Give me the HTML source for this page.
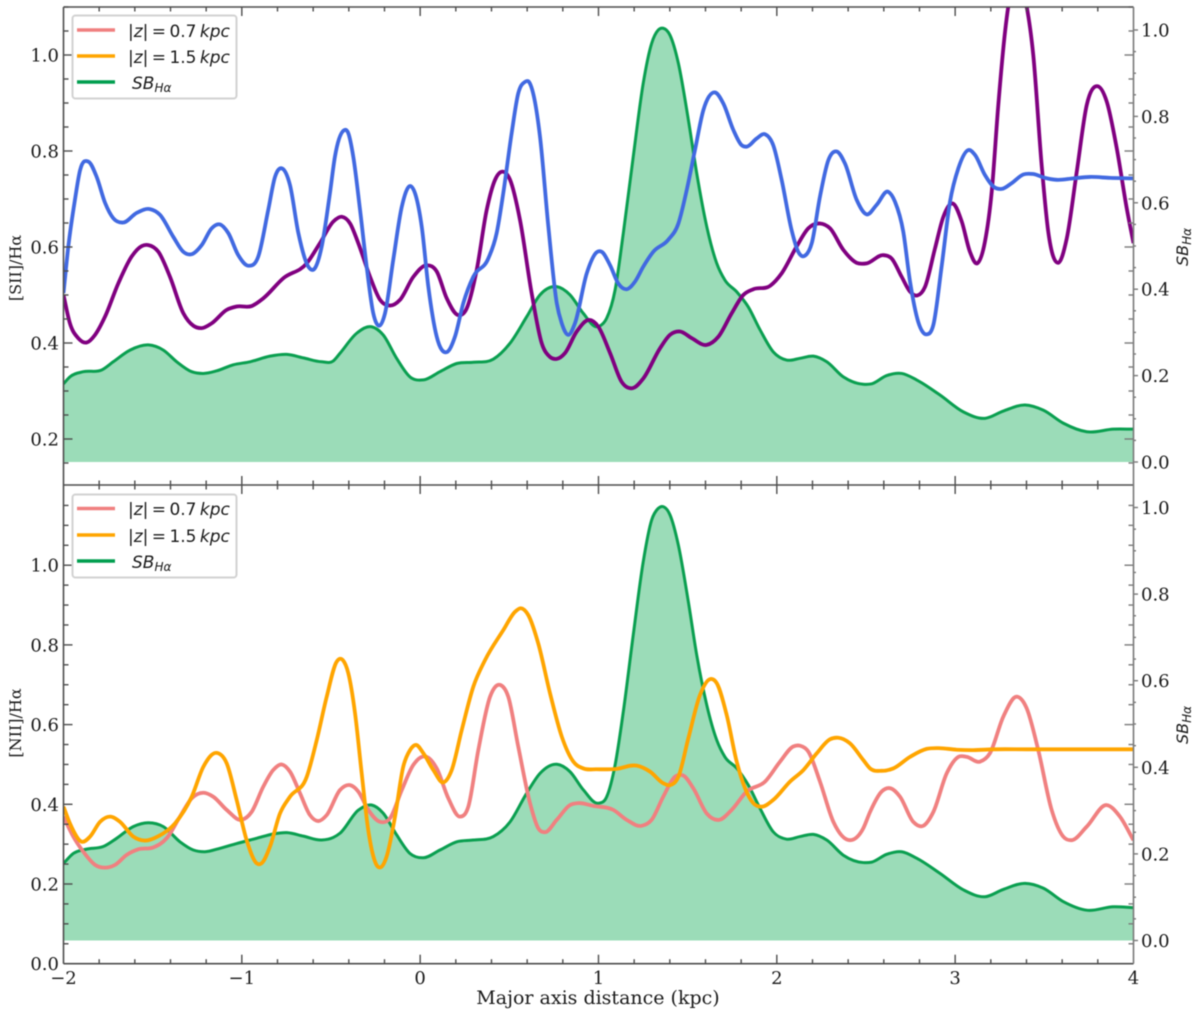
<!DOCTYPE html>
<html lang="en">
<head>
<meta charset="utf-8">
<title>Line ratios along the major axis</title>
<style>
html,body{margin:0;padding:0;background:#fff;width:1200px;height:1015px;overflow:hidden}
svg{display:block;filter:blur(0.45px)}
.tick{font-family:"DejaVu Serif","Liberation Serif",serif;font-size:18px;fill:#1a1a1a}
.axis{font-family:"DejaVu Serif","Liberation Serif",serif;font-size:16px;fill:#1a1a1a}
.xaxis{font-family:"DejaVu Serif","Liberation Serif",serif;font-size:19px;fill:#1a1a1a}
.leg{font-family:"DejaVu Sans","Liberation Sans",sans-serif;font-size:17px;word-spacing:-2px;fill:#1a1a1a}
.sb{font-family:"DejaVu Sans","Liberation Sans",sans-serif;font-size:16px;fill:#1a1a1a;font-style:italic}
</style>
</head>
<body>
<svg id="chart" xmlns="http://www.w3.org/2000/svg" width="1200" height="1015" viewBox="0 0 1200 1015">
<defs>
<clipPath id="clip-top"><rect x="63.5" y="7" width="1070" height="478"/></clipPath>
<clipPath id="clip-bottom"><rect x="63.5" y="485" width="1070" height="479"/></clipPath>
</defs>
<g id="top-panel"></g>
<g id="bottom-panel"></g>
<g id="frames"></g>

<g>
<rect x="72.5" y="15.5" width="164" height="83" rx="3" fill="#fff" stroke="#d2d2d2" stroke-width="2"/>
<line x1="77" x2="115" y1="30" y2="30" stroke="#f08080" stroke-width="3.5"/>
<line x1="77" x2="115" y1="56" y2="56" stroke="#ffa500" stroke-width="3.5"/>
<line x1="77" x2="115" y1="82" y2="82" stroke="#009e4f" stroke-width="3.5"/>
<text class="leg" x="128" y="37">|<tspan font-style="italic">z</tspan>| = 0.7 <tspan font-style="italic">kpc</tspan></text>
<text class="leg" x="128" y="63">|<tspan font-style="italic">z</tspan>| = 1.5 <tspan font-style="italic">kpc</tspan></text>
<text class="sb" x="132" y="89" style="font-size:17px">SB<tspan dy="3" font-size="12">Hα</tspan></text>
</g>
<g>
<rect x="72.5" y="494.5" width="164" height="83" rx="3" fill="#fff" stroke="#d2d2d2" stroke-width="2"/>
<line x1="77" x2="115" y1="508.5" y2="508.5" stroke="#f08080" stroke-width="3.5"/>
<line x1="77" x2="115" y1="535" y2="535" stroke="#ffa500" stroke-width="3.5"/>
<line x1="77" x2="115" y1="561" y2="561" stroke="#009e4f" stroke-width="3.5"/>
<text class="leg" x="128" y="515">|<tspan font-style="italic">z</tspan>| = 0.7 <tspan font-style="italic">kpc</tspan></text>
<text class="leg" x="128" y="542">|<tspan font-style="italic">z</tspan>| = 1.5 <tspan font-style="italic">kpc</tspan></text>
<text class="sb" x="132" y="568" style="font-size:17px">SB<tspan dy="3" font-size="12">Hα</tspan></text>
</g>

<text class="axis" transform="translate(21,268) rotate(-90)" text-anchor="middle">[SII]/Hα</text>
<text class="axis" transform="translate(21,723) rotate(-90)" text-anchor="middle">[NII]/Hα</text>
<text class="sb" transform="translate(1188,247) rotate(-90)" text-anchor="middle">SB<tspan dy="3" font-size="12">Hα</tspan></text>
<text class="sb" transform="translate(1188,725) rotate(-90)" text-anchor="middle">SB<tspan dy="3" font-size="12">Hα</tspan></text>
<text class="xaxis" x="598" y="1004" text-anchor="middle">Major axis distance (kpc)</text>
</svg>

<script>
// Major axis distance (kpc) and ratio values.
const xTickLabels = [-2, -1, 0, 1, 2, 3, 4];
const siiLeftTicks = [0.2, 0.4, 0.6, 0.8, 1.0];
const niiLeftTicks = [0.0, 0.2, 0.4, 0.6, 0.8, 1.0];
const sbRightTicks = [0.0, 0.2, 0.4, 0.6, 0.8, 1.0];

const siiBlueDist = [-2,-1.973,-1.936,-1.907,-1.861,-1.814,-1.767,-1.721,-1.665,-1.59,-1.515,-1.459,-1.384,-1.328,-1.281,-1.225,-1.169,-1.122,-1.076,-1.02,-0.964,-0.908,-0.852,-0.814,-0.771,-0.73,-0.683,-0.627,-0.59,-0.552,-0.506,-0.478,-0.431,-0.403,-0.375,-0.337,-0.3,-0.263,-0.229,-0.197,-0.151,-0.103,-0.057,-0.023,0.009,0.046,0.093,0.149,0.195,0.242,0.298,0.382,0.429,0.466,0.513,0.55,0.588,0.61,0.638,0.672,0.719,0.766,0.794,0.831,0.868,0.934,0.99,1.018,1.065,1.111,1.158,1.205,1.251,1.307,1.391,1.448,1.495,1.541,1.588,1.653,1.7,1.756,1.803,1.831,1.887,1.934,1.98,2.027,2.083,2.12,2.158,2.196,2.242,2.289,2.336,2.382,2.448,2.504,2.56,2.625,2.663,2.709,2.747,2.793,2.84,2.878,2.925,2.971,3.018,3.074,3.111,3.167,3.214,3.261,3.317,3.382,3.438,3.504,3.569,3.663,3.756,3.868,4];
const siiBlueRatio = [0.504,0.601,0.698,0.76,0.778,0.746,0.692,0.66,0.651,0.671,0.679,0.667,0.621,0.59,0.585,0.604,0.639,0.647,0.629,0.583,0.561,0.58,0.677,0.746,0.763,0.729,0.629,0.559,0.556,0.601,0.712,0.788,0.842,0.837,0.788,0.677,0.559,0.462,0.436,0.462,0.573,0.684,0.727,0.705,0.642,0.517,0.413,0.381,0.413,0.483,0.538,0.576,0.629,0.712,0.837,0.92,0.944,0.944,0.913,0.83,0.642,0.483,0.441,0.417,0.441,0.545,0.589,0.59,0.562,0.524,0.512,0.528,0.559,0.59,0.615,0.649,0.719,0.802,0.885,0.922,0.899,0.844,0.812,0.809,0.826,0.835,0.812,0.74,0.635,0.59,0.582,0.608,0.705,0.781,0.799,0.774,0.698,0.668,0.688,0.715,0.694,0.632,0.528,0.444,0.418,0.438,0.562,0.694,0.764,0.802,0.792,0.75,0.726,0.721,0.733,0.751,0.752,0.744,0.74,0.743,0.746,0.744,0.743];

const siiPurpleDist = [-2,-1.964,-1.917,-1.87,-1.823,-1.767,-1.693,-1.618,-1.561,-1.524,-1.468,-1.403,-1.328,-1.272,-1.225,-1.169,-1.085,-1.029,-0.945,-0.88,-0.767,-0.636,-0.562,-0.487,-0.44,-0.393,-0.347,-0.281,-0.225,-0.169,-0.113,-0.038,0.037,0.093,0.149,0.214,0.261,0.317,0.373,0.42,0.461,0.504,0.56,0.625,0.682,0.728,0.766,0.812,0.878,0.948,0.999,1.065,1.13,1.192,1.251,1.345,1.401,1.457,1.523,1.607,1.672,1.747,1.812,1.868,1.962,2.027,2.111,2.177,2.242,2.298,2.373,2.448,2.504,2.597,2.644,2.7,2.747,2.788,2.831,2.887,2.934,2.99,3.037,3.083,3.124,3.167,3.205,3.242,3.28,3.298,3.352,3.401,3.438,3.485,3.522,3.577,3.626,3.682,3.738,3.799,3.85,3.906,3.962,4];
const siiPurpleRatio = [0.5,0.441,0.41,0.401,0.417,0.455,0.524,0.58,0.602,0.604,0.59,0.538,0.462,0.436,0.431,0.441,0.469,0.476,0.477,0.493,0.535,0.566,0.608,0.653,0.663,0.649,0.608,0.538,0.49,0.478,0.49,0.538,0.562,0.549,0.493,0.458,0.472,0.552,0.677,0.74,0.757,0.74,0.656,0.504,0.399,0.371,0.367,0.379,0.424,0.448,0.434,0.379,0.319,0.306,0.326,0.389,0.417,0.424,0.41,0.396,0.413,0.462,0.5,0.512,0.519,0.545,0.601,0.639,0.649,0.639,0.594,0.567,0.566,0.583,0.576,0.538,0.507,0.499,0.517,0.597,0.663,0.69,0.653,0.59,0.566,0.611,0.715,0.896,1.049,1.101,1.152,1.101,1,0.771,0.632,0.567,0.618,0.757,0.896,0.935,0.903,0.806,0.681,0.608];

const siiSbDist = [-2,-1.964,-1.889,-1.786,-1.721,-1.627,-1.524,-1.44,-1.365,-1.281,-1.216,-1.141,-1.048,-0.954,-0.842,-0.748,-0.655,-0.552,-0.487,-0.449,-0.356,-0.272,-0.207,-0.132,-0.057,0.018,0.111,0.205,0.298,0.41,0.504,0.597,0.672,0.766,0.84,0.915,0.99,1.008,1.046,1.093,1.139,1.195,1.251,1.298,1.335,1.363,1.401,1.448,1.504,1.551,1.607,1.663,1.709,1.775,1.84,1.906,1.98,2.055,2.13,2.205,2.28,2.373,2.485,2.532,2.616,2.7,2.784,2.915,3.046,3.167,3.27,3.392,3.494,3.606,3.738,3.887,4];
const siiSbValue = [0.181,0.197,0.209,0.213,0.232,0.259,0.271,0.259,0.232,0.209,0.205,0.211,0.225,0.232,0.245,0.249,0.241,0.232,0.234,0.252,0.298,0.313,0.294,0.24,0.197,0.19,0.209,0.228,0.231,0.238,0.275,0.336,0.387,0.406,0.387,0.344,0.313,0.315,0.333,0.398,0.529,0.707,0.877,0.969,1,1.004,0.988,0.923,0.792,0.668,0.545,0.46,0.421,0.394,0.359,0.306,0.255,0.236,0.24,0.245,0.232,0.197,0.18,0.181,0.2,0.205,0.19,0.155,0.116,0.101,0.118,0.132,0.12,0.09,0.07,0.076,0.076];

const niiSbDist = [-2,-1.945,-1.87,-1.777,-1.702,-1.609,-1.524,-1.44,-1.347,-1.272,-1.207,-1.122,-1.029,-0.917,-0.824,-0.748,-0.655,-0.552,-0.487,-0.449,-0.347,-0.272,-0.207,-0.132,-0.057,0.018,0.111,0.205,0.298,0.41,0.504,0.597,0.672,0.766,0.84,0.915,0.999,1.046,1.093,1.139,1.195,1.251,1.298,1.335,1.363,1.401,1.448,1.504,1.551,1.607,1.663,1.709,1.775,1.84,1.906,1.98,2.055,2.13,2.205,2.28,2.373,2.485,2.532,2.616,2.7,2.784,2.915,3.046,3.167,3.27,3.392,3.494,3.606,3.738,3.887,4];
const niiSbValue = [0.178,0.201,0.211,0.217,0.236,0.263,0.272,0.263,0.228,0.209,0.205,0.213,0.224,0.236,0.246,0.249,0.241,0.232,0.238,0.248,0.301,0.313,0.294,0.244,0.201,0.191,0.209,0.228,0.232,0.24,0.274,0.34,0.386,0.407,0.39,0.348,0.317,0.332,0.405,0.528,0.706,0.875,0.971,0.998,1.002,0.983,0.913,0.782,0.659,0.544,0.463,0.424,0.398,0.359,0.305,0.251,0.234,0.24,0.245,0.232,0.197,0.18,0.181,0.199,0.205,0.19,0.155,0.117,0.101,0.118,0.132,0.121,0.09,0.07,0.078,0.076];

const niiOrangeDist = [-2,-1.964,-1.898,-1.851,-1.795,-1.739,-1.683,-1.609,-1.543,-1.468,-1.375,-1.281,-1.216,-1.141,-1.085,-1.029,-0.973,-0.917,-0.889,-0.842,-0.786,-0.73,-0.636,-0.58,-0.524,-0.468,-0.434,-0.403,-0.365,-0.328,-0.291,-0.253,-0.221,-0.188,-0.141,-0.095,-0.057,-0.023,0.018,0.074,0.13,0.177,0.233,0.298,0.364,0.466,0.532,0.564,0.606,0.662,0.728,0.794,0.859,0.915,0.99,1.102,1.214,1.289,1.363,1.401,1.448,1.504,1.569,1.625,1.663,1.719,1.775,1.822,1.868,1.915,1.98,2.074,2.149,2.224,2.298,2.345,2.41,2.485,2.523,2.588,2.653,2.747,2.84,2.906,3.009,3.102,3.214,3.401,4];
const niiOrangeRatio = [0.394,0.352,0.306,0.319,0.356,0.369,0.356,0.319,0.309,0.32,0.352,0.419,0.494,0.529,0.503,0.411,0.31,0.252,0.252,0.294,0.377,0.419,0.469,0.561,0.67,0.758,0.762,0.729,0.628,0.478,0.335,0.256,0.242,0.269,0.369,0.494,0.536,0.549,0.528,0.486,0.455,0.486,0.586,0.695,0.762,0.837,0.883,0.892,0.875,0.804,0.679,0.57,0.507,0.49,0.488,0.489,0.497,0.482,0.453,0.448,0.469,0.566,0.674,0.714,0.704,0.624,0.507,0.44,0.403,0.394,0.411,0.457,0.486,0.528,0.563,0.567,0.553,0.511,0.49,0.484,0.49,0.519,0.539,0.541,0.537,0.536,0.538,0.538,0.538];

const niiPinkDist = [-2,-1.945,-1.889,-1.823,-1.767,-1.711,-1.646,-1.581,-1.496,-1.421,-1.347,-1.281,-1.216,-1.16,-1.085,-1.001,-0.945,-0.88,-0.824,-0.776,-0.73,-0.674,-0.618,-0.571,-0.524,-0.449,-0.393,-0.347,-0.291,-0.225,-0.169,-0.103,-0.038,0.037,0.093,0.158,0.223,0.27,0.326,0.392,0.452,0.494,0.55,0.616,0.662,0.7,0.766,0.84,0.887,0.971,1.083,1.158,1.242,1.298,1.363,1.429,1.476,1.532,1.607,1.677,1.747,1.831,1.934,2.018,2.092,2.13,2.177,2.242,2.317,2.41,2.485,2.523,2.588,2.639,2.691,2.765,2.821,2.878,2.953,3.018,3.065,3.139,3.195,3.27,3.345,3.401,3.466,3.541,3.606,3.654,3.738,3.85,3.924,4];
const niiPinkRatio = [0.369,0.319,0.281,0.248,0.241,0.248,0.273,0.287,0.292,0.315,0.369,0.415,0.429,0.419,0.386,0.361,0.381,0.444,0.486,0.5,0.482,0.428,0.373,0.358,0.373,0.436,0.448,0.432,0.386,0.356,0.365,0.436,0.499,0.519,0.49,0.415,0.369,0.394,0.536,0.67,0.699,0.67,0.545,0.403,0.34,0.33,0.361,0.398,0.403,0.396,0.386,0.361,0.346,0.361,0.419,0.469,0.472,0.44,0.377,0.361,0.386,0.432,0.457,0.507,0.545,0.547,0.532,0.457,0.356,0.31,0.34,0.381,0.432,0.44,0.419,0.356,0.346,0.381,0.478,0.519,0.519,0.507,0.528,0.62,0.67,0.641,0.536,0.386,0.319,0.31,0.344,0.398,0.369,0.31];

// Axis functions
const xPos = d => 63.5 + (d + 2) * 178.33;
const ySiiLeft = v => 535 - v * 480;
const ySiiRight = v => 462 - v * 432;
const yNiiLeft = v => 963.7 - v * 398.5;
const yNiiRight = v => 940.5 - v * 433;

const NS = 'http://www.w3.org/2000/svg';
const topPanel = document.getElementById('top-panel');
const bottomPanel = document.getElementById('bottom-panel');
const frames = document.getElementById('frames');

// Cubic Hermite curve with tangents weighted for uneven point spacing.
function curve(xs, ys, xf, yf) {
  const p = xs.map((x, i) => [xf(x), yf(ys[i])]);
  const n = p.length;
  const m = p.map((pt, i) => {
    if (i === 0) return (p[1][1] - pt[1]) / (p[1][0] - pt[0]);
    if (i === n - 1) return (pt[1] - p[i - 1][1]) / (pt[0] - p[i - 1][0]);
    const h0 = pt[0] - p[i - 1][0], h1 = p[i + 1][0] - pt[0];
    const s0 = (pt[1] - p[i - 1][1]) / h0, s1 = (p[i + 1][1] - pt[1]) / h1;
    return (s0 * h1 + s1 * h0) / (h0 + h1);
  });
  let d = 'M' + p[0][0].toFixed(2) + ' ' + p[0][1].toFixed(2);
  for (let i = 0; i < n - 1; i++) {
    const h = p[i + 1][0] - p[i][0];
    const c1x = p[i][0] + h / 3, c1y = p[i][1] + m[i] * h / 3;
    const c2x = p[i + 1][0] - h / 3, c2y = p[i + 1][1] - m[i + 1] * h / 3;
    d += 'C' + c1x.toFixed(2) + ' ' + c1y.toFixed(2) + ' ' + c2x.toFixed(2) + ' ' + c2y.toFixed(2) + ' ' + p[i + 1][0].toFixed(2) + ' ' + p[i + 1][1].toFixed(2);
  }
  return d;
}

function series(parent, clip, name, xs, ys, yf, color, width) {
  const el = document.createElementNS(NS, 'path');
  
  
  el.setAttribute('d', curve(xs, ys, xPos, yf));
  el.setAttribute('fill', 'none');
  el.setAttribute('stroke', color);
  el.setAttribute('stroke-width', width);
  el.setAttribute('stroke-linejoin', 'round');
  el.setAttribute('clip-path', 'url(#' + clip + ')');
  parent.appendChild(el);
}

function area(parent, clip, name, xs, ys, yf) {
  const el = document.createElementNS(NS, 'path');
  
  
  const base = yf(0).toFixed(2);
  el.setAttribute('d', curve(xs, ys, xPos, yf) + 'L' + xPos(xs[xs.length - 1]) + ' ' + base + 'L' + xPos(xs[0]) + ' ' + base + 'Z');
  el.setAttribute('fill', '#9bdcb8');
  el.setAttribute('clip-path', 'url(#' + clip + ')');
  parent.appendChild(el);
}

function tick(x1, y1, x2, y2, color) {
  const el = document.createElementNS(NS, 'line');
  
  
  el.setAttribute('x1', x1);
  el.setAttribute('y1', y1);
  el.setAttribute('x2', x2);
  el.setAttribute('y2', y2);
  el.setAttribute('stroke', color);
  el.setAttribute('stroke-width', '1.4');
  frames.appendChild(el);
}

function label(x, y, text, anchor) {
  const el = document.createElementNS(NS, 'text');
  
  
  el.setAttribute('class', 'tick');
  el.setAttribute('x', x);
  el.setAttribute('y', y);
  el.setAttribute('text-anchor', anchor);
  el.textContent = text;
  frames.appendChild(el);
}

// Series
area(topPanel, 'clip-top', 'sii-sb-halpha-fill', siiSbDist, siiSbValue, ySiiRight);
series(topPanel, 'clip-top', 'sii-sb-halpha-line', siiSbDist, siiSbValue, ySiiRight, '#0a9f50', 3);
series(topPanel, 'clip-top', 'sii-line-purple', siiPurpleDist, siiPurpleRatio, ySiiLeft, '#800080', 3.8);
series(topPanel, 'clip-top', 'sii-line-blue', siiBlueDist, siiBlueRatio, ySiiLeft, '#4169e1', 3.8);

area(bottomPanel, 'clip-bottom', 'nii-sb-halpha-fill', niiSbDist, niiSbValue, yNiiRight);
series(bottomPanel, 'clip-bottom', 'nii-sb-halpha-line', niiSbDist, niiSbValue, yNiiRight, '#0a9f50', 3);
series(bottomPanel, 'clip-bottom', 'nii-line-pink', niiPinkDist, niiPinkRatio, yNiiLeft, '#f08080', 3.8);
series(bottomPanel, 'clip-bottom', 'nii-line-orange', niiOrangeDist, niiOrangeRatio, yNiiLeft, '#ffa500', 3.8);

// X ticks (majors at integers, minors every 0.2)
const spineDark = '#4d4d4d', spineGrey = '#7a7a7a';
for (let k = -10; k <= 20; k++) {
  const d = k / 5, x = xPos(d), major = k % 5 === 0;
  if (k === -10 || k === 20) continue;
  const len = major ? 9 : 4.5;
  tick(x, 7, x, 7 + len, spineDark);
  tick(x, 485 - len, x, 485 + len, spineDark);
  tick(x, 963.7 - len, x, 963.7, spineDark);
}
xTickLabels.forEach(d => {
  label(xPos(d), 984, String(d).replace('-', '\u2212'), 'middle');
});

// Left-axis ticks, mirrored inward on the right spine
for (let k = 3; k <= 22; k++) {
  const v = k / 20, y = ySiiLeft(v), major = k % 4 === 0, len = major ? 9 : 5;
  tick(63.5, y, 63.5 + len, y, spineDark);
  tick(1133.5 - len, y, 1133.5, y, spineGrey);
}
for (let k = 1; k <= 23; k++) {
  const v = k / 20, y = yNiiLeft(v), major = k % 4 === 0, len = major ? 9 : 5;
  tick(63.5, y, 63.5 + len, y, spineDark);
  tick(1133.5 - len, y, 1133.5, y, spineGrey);
}
siiLeftTicks.forEach(v => {
  label(59, ySiiLeft(v) + 6.5, v.toFixed(1), 'end');
});
niiLeftTicks.forEach(v => {
  label(59, yNiiLeft(v) + 6.5, v.toFixed(1), 'end');
});

// Right-axis outward ticks
for (let k = 0; k <= 20; k++) {
  const v = k / 20, major = k % 4 === 0, len = major ? 4.5 : 2.5;
  tick(1133.5, ySiiRight(v), 1133.5 + len, ySiiRight(v), spineGrey);
  tick(1133.5, yNiiRight(v), 1133.5 + len, yNiiRight(v), spineGrey);
}
sbRightTicks.forEach(v => {
  label(1141, ySiiRight(v) + 6.5, v.toFixed(1), 'start');
  label(1141, yNiiRight(v) + 6.5, v.toFixed(1), 'start');
});

// Spines
[[63.5, 7, 1133.5, 7, spineDark], [63.5, 485, 1133.5, 485, spineDark], [63.5, 963.7, 1133.5, 963.7, spineDark],
 [63.5, 7, 63.5, 963.7, spineDark], [1133.5, 7, 1133.5, 963.7, spineGrey]].forEach(s => {
  const el = document.createElementNS(NS, 'line');
  
  
  el.setAttribute('x1', s[0]);
  el.setAttribute('y1', s[1]);
  el.setAttribute('x2', s[2]);
  el.setAttribute('y2', s[3]);
  el.setAttribute('stroke', s[4]);
  el.setAttribute('stroke-width', '1.6');
  frames.appendChild(el);
});
</script>
</body>
</html>
